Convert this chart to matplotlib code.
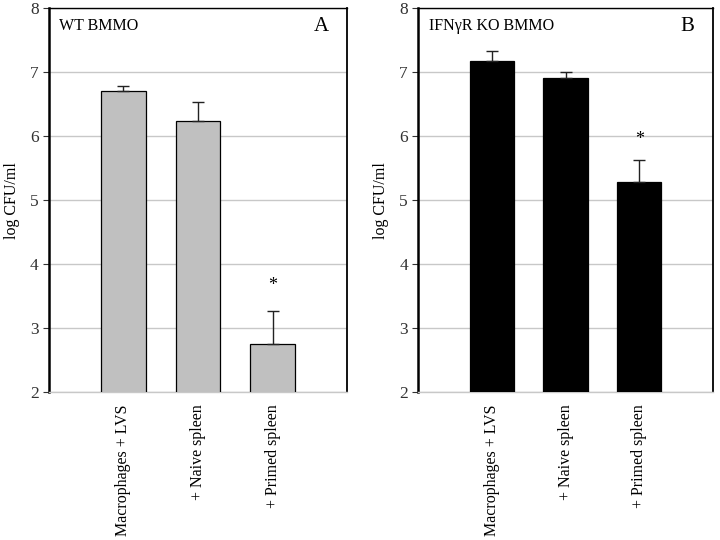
import numpy as np
import matplotlib
matplotlib.use('Agg')
import matplotlib.pyplot as plt

plt.rcParams['font.family'] = ['Liberation Serif', 'DejaVu Serif']

categorias = ['Macrophages + LVS', '+ Naive spleen', '+ Primed spleen']
valores_a = [6.70, 6.23, 2.75]
errores_a = [0.08, 0.30, 0.52]
valores_b = [7.17, 6.91, 5.28]
errores_b = [0.16, 0.09, 0.34]
estrella_a = 3.67
estrella_b = 5.95


def panel(ax, valores, errores, color, titulo, letra, estrella):
    x = np.arange(1, len(valores) + 1)
    ax.bar(x, valores, width=0.6, bottom=0, color=color, edgecolor='black',
           linewidth=0.9, zorder=3)
    ax.errorbar(x, valores, yerr=[np.zeros(len(errores)), errores], fmt='none',
                ecolor='#222222', elinewidth=1.0, capsize=4, capthick=1.0, zorder=4)
    ax.set_xlim(0, 4)
    ax.set_ylim(2, 8)
    ax.set_yticks(range(2, 9))
    ax.yaxis.grid(True, color='#c8c8c8', linewidth=1.0, zorder=0)
    ax.set_xticks(x)
    ax.set_xticklabels(categorias, rotation=90, fontsize=11.5)
    ax.tick_params(axis='x', length=0, pad=9)
    ax.tick_params(axis='y', direction='out', length=4, labelsize=12.5, colors='#333333')
    ax.set_ylabel('log CFU/ml', fontsize=11.5, labelpad=7)
    ax.spines['left'].set_linewidth(1.8)
    ax.spines['right'].set_linewidth(1.3)
    ax.spines['top'].set_linewidth(1.0)
    ax.spines['bottom'].set_color('#c8c8c8')
    ax.spines['bottom'].set_linewidth(1.0)
    ax.text(0.14, 7.72, titulo, fontsize=11.5, va='center', ha='left')
    ax.text(3.65, 7.71, letra, fontsize=15, va='center', ha='center')
    ax.text(3, estrella, '*', fontsize=13, ha='center', va='center')


fig = plt.figure(figsize=(7.2, 5.4), dpi=100)
ax1 = fig.add_axes([0.068, 0.274, 0.414, 0.711])
ax2 = fig.add_axes([0.581, 0.274, 0.409, 0.711])

panel(ax1, valores_a, errores_a, '#c0c0c0', 'WT BMMO', 'A', estrella_a)
panel(ax2, valores_b, errores_b, 'black', 'IFNγR KO BMMO', 'B', estrella_b)

fig.savefig('out.png', dpi=100)
